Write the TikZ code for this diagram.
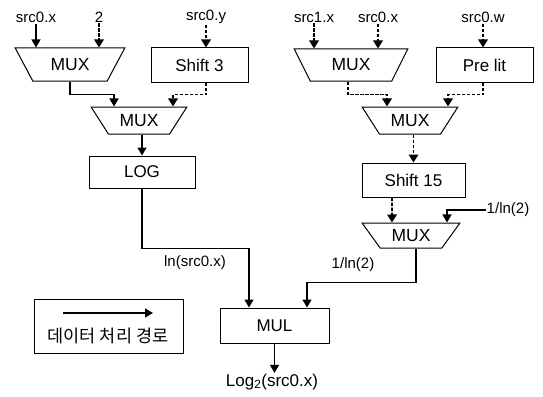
\documentclass[tikz,border=0pt]{standalone}
\usepackage{fontspec}
\setmainfont{Liberation Sans}
\newfontfamily\korfont{Noto Sans CJK KR}
\usetikzlibrary{positioning, arrows.meta, shapes.geometric, calc}
\tikzset{
    block/.style={draw, line width=1pt, inner sep=0pt, font=\fontsize{17}{19}\selectfont},
    mux/.style={trapezium, shape border rotate=180, trapezium stretches=true, draw, line width=1pt, inner sep=0pt, font=\fontsize{17.5}{19}\selectfont},
    inlabel/.style={font=\fontsize{15}{17}\selectfont, inner sep=1pt},
    outlabel/.style={font=\fontsize{17}{19}\selectfont, inner sep=1pt},
    flow/.style={-{Triangle[length=8pt, width=9pt]}, line width=1.4pt},
    ctrl/.style={-{Triangle[length=8pt, width=9.5pt]}, line width=1.8pt, dash pattern=on 3.5pt off 1.5pt}
}
\begin{document}
\begin{tikzpicture}[x=1pt, y=-1pt]
\useasboundingbox (0,0) rectangle (543,396);

\node[mux, minimum width=110pt, minimum height=33pt, trapezium angle=53] (mux1) at (70,64.5) {MUX};
\node[block, minimum width=97pt, minimum height=34pt] (shift3) at (199.5,65) {Shift 3};
\node[mux, minimum width=114pt, minimum height=32pt, trapezium angle=58] (mux3) at (351,65) {MUX};
\node[block, minimum width=97pt, minimum height=34pt] (prelit) at (484.5,65) {Pre lit};

\node[mux, minimum width=96pt, minimum height=27pt, trapezium angle=48] (mux2) at (139,120.5) {MUX};
\node[mux, minimum width=96pt, minimum height=27pt, trapezium angle=48] (mux4) at (410,120.5) {MUX};
\node[block, minimum width=106pt, minimum height=32pt] (log) at (142,172) {LOG};
\node[block, minimum width=103pt, minimum height=34pt] (shift15) at (413.5,180) {Shift 15};
\node[mux, minimum width=98pt, minimum height=25pt, trapezium angle=47] (mux5) at (411,235.5) {MUX};
\node[block, minimum width=109pt, minimum height=35pt] (mul) at (274.5,325.5) {MUL};

\node[inlabel] (inA) at (36,17) {src0.x};
\node[inlabel] (inB) at (99,17) {2};
\node[inlabel] (inC) at (206,17) {src0.y};
\node[inlabel] (inD) at (314,17) {src1.x};
\node[inlabel] (inE) at (378,17) {src0.x};
\node[inlabel] (inF) at (483,17) {src0.w};
\node[inlabel] (cst) at (508,210) {1/ln(2)};
\node[inlabel] (lnlbl) at (195,263) {ln(src0.x)};
\node[inlabel] (invlbl) at (353,265) {1/ln(2)};
\node[outlabel] (out) at (272,382) {Log\textsubscript{2}(src0.x)};

\foreach \lbl/\tgt/\sty in {inA/mux1/flow, inB/mux1/ctrl, inC/shift3/ctrl, inD/mux3/ctrl, inE/mux3/ctrl, inF/prelit/ctrl}
    \draw[\sty] (\lbl.south) -- (\lbl.south |- \tgt.north);

\draw[flow] (mux1.south) -- ++(0,13) -| ($(mux2.north)+(-25,0)$);
\draw[ctrl] ($(shift3.south)+(6.5,0)$) -- ++(0,12) -| ($(mux2.north)+(34,0)$);
\draw[flow] (log.north |- mux2.south) -- (log.north);
\draw[flow] (log.south) -- ++(0,60) -| ($(mul.north)+(-25.5,0)$);

\draw[ctrl] ($(mux3.south)+(-3,0)$) -- ++(0,13) -| ($(mux4.north)+(-23,0)$);
\draw[ctrl] ($(prelit.south)+(-1.5,0)$) -- ++(0,12) -| ($(mux4.north)+(38,0)$);
\draw[ctrl] (shift15.north |- mux4.south) -- (shift15.north);
\draw[ctrl] ($(shift15.south)+(-21.5,0)$) -- ($(mux5.north)+(-19,0)$);
\draw[flow] (cst.west) -| ($(mux5.north)+(36,0)$);
\draw[flow] ($(mux5.south)+(5,0)$) -- ++(0,34) -| ($(mul.north)+(32.5,0)$);
\draw[flow] (mul.south) -- (mul.south |- out.north);

\node[draw, line width=1pt, minimum width=149pt, minimum height=54pt] (legend) at (108.5,326) {};
\coordinate (legA) at (63,313);
\coordinate (legB) at (153,313);
\draw[flow] (legA) -- (legB);
\node[font=\korfont\fontsize{17.5}{19}\selectfont] (legtext) at (108,336) {데이터 처리 경로};
\end{tikzpicture}
\end{document}
